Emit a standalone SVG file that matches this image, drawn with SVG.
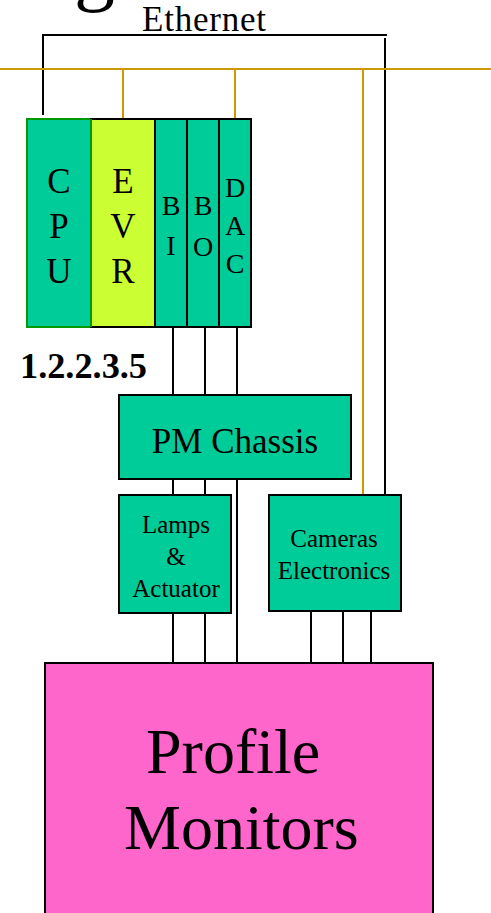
<svg xmlns="http://www.w3.org/2000/svg" width="491" height="913" viewBox="0 0 491 913">
<style>
text{font-family:'Liberation Serif','Times New Roman',Times,serif;fill:#000}
.box{fill:#00CC99;stroke:#000;stroke-width:2}
.bl{stroke:#000;stroke-width:2;fill:none}
.or{stroke:#CC9900;stroke-width:2;fill:none}
</style>
<rect width="491" height="913" fill="#fff"/>
<g id="title">
<text x="74" y="-5" font-size="82">g</text>
<text x="142" y="31" font-size="35" textLength="124">Ethernet</text>
</g>
<g id="connectors">
<polyline class="bl" points="43,115 43,35 387,35"/>
<line class="bl" x1="385" y1="38" x2="385" y2="495"/>
<line class="or" x1="0" y1="69" x2="491" y2="69"/>
<line class="or" x1="123" y1="69" x2="123" y2="119"/>
<line class="or" x1="235" y1="69" x2="235" y2="119"/>
<line class="or" x1="363" y1="69" x2="363" y2="495"/>
<line class="bl" x1="173" y1="327" x2="173" y2="395"/>
<line class="bl" x1="205" y1="327" x2="205" y2="395"/>
<line class="bl" x1="237" y1="327" x2="237" y2="395"/>
<line class="bl" x1="173" y1="479" x2="173" y2="495"/>
<line class="bl" x1="205" y1="479" x2="205" y2="495"/>
<line class="bl" x1="237" y1="479" x2="237" y2="663"/>
<line class="bl" x1="173" y1="613" x2="173" y2="663"/>
<line class="bl" x1="205" y1="613" x2="205" y2="663"/>
<line class="bl" x1="311" y1="611" x2="311" y2="663"/>
<line class="bl" x1="343" y1="611" x2="343" y2="663"/>
<line class="bl" x1="371" y1="611" x2="371" y2="663"/>
</g>
<g id="cpu">
<rect x="27" y="119" width="64" height="208" fill="#00CC99" stroke="#009900" stroke-width="2"/>
<text font-size="35" text-anchor="middle"><tspan x="59" y="193">C</tspan><tspan x="59" y="238">P</tspan><tspan x="59" y="283">U</tspan></text>
</g>
<g id="evr">
<rect x="91" y="119" width="64" height="208" fill="#CCFF33" stroke="#000" stroke-width="2"/>
<line x1="91" y1="119" x2="91" y2="327" stroke="#009900" stroke-width="2"/>
<text font-size="35" text-anchor="middle"><tspan x="123" y="193">E</tspan><tspan x="123" y="238">V</tspan><tspan x="123" y="283">R</tspan></text>
</g>
<g id="bi">
<rect class="box" x="155" y="119" width="32" height="208"/>
<text font-size="28" text-anchor="middle"><tspan x="171" y="215">B</tspan><tspan x="171" y="255">I</tspan></text>
</g>
<g id="bo">
<rect class="box" x="187" y="119" width="32" height="208"/>
<text font-size="28" text-anchor="middle"><tspan x="203" y="215">B</tspan><tspan x="203" y="256">O</tspan></text>
</g>
<g id="dac">
<rect class="box" x="219" y="119" width="32" height="208"/>
<text font-size="28" text-anchor="middle"><tspan x="235" y="197">D</tspan><tspan x="235" y="235">A</tspan><tspan x="235" y="273">C</tspan></text>
</g>
<g id="label">
<text x="20" y="378" font-size="35" font-weight="bold" textLength="127" lengthAdjust="spacingAndGlyphs">1.2.2.3.5</text>
</g>
<g id="pmchassis">
<rect class="box" x="119" y="395" width="232" height="84"/>
<text x="235" y="453" font-size="35" text-anchor="middle">PM Chassis</text>
</g>
<g id="lamps">
<rect class="box" x="119" y="495" width="112" height="118"/>
<text font-size="25" text-anchor="middle"><tspan x="176" y="533">Lamps</tspan><tspan x="176" y="565">&amp;</tspan><tspan x="176" y="597">Actuator</tspan></text>
</g>
<g id="cameras">
<rect class="box" x="269" y="495" width="132" height="116"/>
<text font-size="25" text-anchor="middle"><tspan x="334" y="547">Cameras</tspan><tspan x="334" y="579">Electronics</tspan></text>
</g>
<g id="profile">
<rect x="45" y="663" width="388" height="270" fill="#FF66CC" stroke="#000" stroke-width="2"/>
<text font-size="64"><tspan x="146" y="773">Profile</tspan><tspan x="124" y="849">Monitors</tspan></text>
</g>
</svg>
